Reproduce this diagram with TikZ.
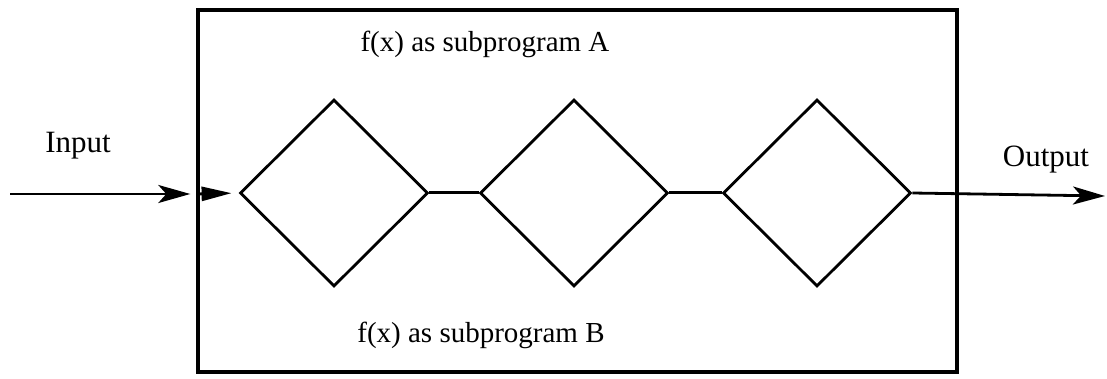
\documentclass[tikz,border=0pt]{standalone}
\usepackage{fontspec}
\setmainfont{Liberation Serif}
\usetikzlibrary{shapes.geometric,arrows.meta}
\begin{document}
\begin{tikzpicture}[x=0.5pt,y=-0.5pt,
  frame/.style={draw,line width=1.7pt,inner sep=0pt,minimum width=379.5pt,minimum height=181pt},
  dia/.style={draw,diamond,line width=1.4pt,inner sep=0pt,minimum width=94pt,minimum height=93.5pt},
  link/.style={line width=1.5pt},
  arr/.style={line width=1.4pt,-{Stealth[length=16pt,width=9pt,inset=4pt]}},
  smallarr/.style={line width=1.4pt,-{Triangle[length=15pt,width=7pt]}},
  lbl/.style={anchor=base,inner sep=0pt,font=\fontsize{14.5pt}{17pt}\selectfont},
  iolbl/.style={anchor=base,inner sep=0pt,font=\fontsize{15.5pt}{18pt}\selectfont}]
\useasboundingbox (0,0) rectangle (1107,379);
\node[frame] (box) at (577.5,191) {};
\node[dia] (d1) at (334,193) {};
\node[dia] (d2) at (574,193) {};
\node[dia] (d3) at (817,193) {};
\node[lbl] (la) at (485,52) {f(x) as subprogram A};
\node[lbl] (lb) at (481,342) {f(x) as subprogram B};
\node[iolbl] (lin) at (78,153) {Input};
\node[iolbl] (lout) at (1046,167) {Output};
\coordinate (inS) at (10,194);
\coordinate (inB) at (inS -| box.west);
\coordinate (outE) at (1105,196);
\draw[arr,shorten >=3pt] (inS) -- (inB);
\draw[smallarr,shorten >=3.5pt] (inB) -- (d1.west);
\draw[link] (d1.east) -- (d2.west);
\draw[link] (d2.east) -- (d3.west);
\draw[arr] (d3.east) -- (outE);
\end{tikzpicture}
\end{document}
